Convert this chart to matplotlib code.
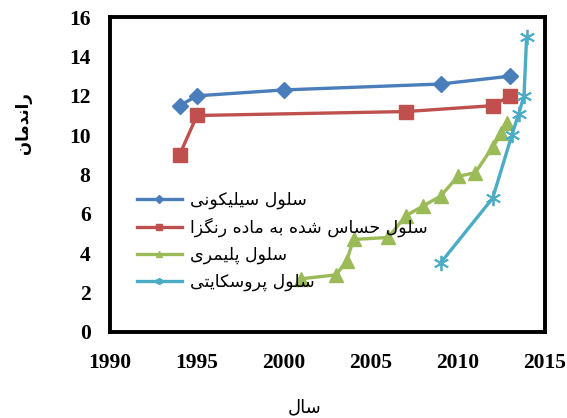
import matplotlib
matplotlib.use('Agg')
import matplotlib.pyplot as plt

# Persian letters -> (isolated, final, initial, medial); None means the letter
# does not join to the following letter
FORMS = {
    'ا': ('\uFE8D', '\uFE8E', None, None),
    'ب': ('\uFE8F', '\uFE90', '\uFE91', '\uFE92'),
    'پ': ('\uFB56', '\uFB57', '\uFB58', '\uFB59'),
    'ت': ('\uFE95', '\uFE96', '\uFE97', '\uFE98'),
    'ح': ('\uFEA1', '\uFEA2', '\uFEA3', '\uFEA4'),
    'د': ('\uFEA9', '\uFEAA', None, None),
    'ر': ('\uFEAD', '\uFEAE', None, None),
    'ز': ('\uFEAF', '\uFEB0', None, None),
    'س': ('\uFEB1', '\uFEB2', '\uFEB3', '\uFEB4'),
    'ش': ('\uFEB5', '\uFEB6', '\uFEB7', '\uFEB8'),
    'ل': ('\uFEDD', '\uFEDE', '\uFEDF', '\uFEE0'),
    'م': ('\uFEE1', '\uFEE2', '\uFEE3', '\uFEE4'),
    'ن': ('\uFEE5', '\uFEE6', '\uFEE7', '\uFEE8'),
    'ه': ('\uFEE9', '\uFEEA', '\uFEEB', '\uFEEC'),
    'و': ('\uFEED', '\uFEEE', None, None),
    'ی': ('\uFBFC', '\uFBFD', '\uFBFE', '\uFBFF'),
    'ک': ('\uFB8E', '\uFB8F', '\uFB90', '\uFB91'),
    'گ': ('\uFB92', '\uFB93', '\uFB94', '\uFB95'),
}


def fa(text):
    # shape the letters and put them in visual (left to right) order
    out = []
    for i, ch in enumerate(text):
        if ch not in FORMS:
            out.append(ch)
            continue
        prev = text[i - 1] if i > 0 else ''
        nxt = text[i + 1] if i + 1 < len(text) else ''
        join_prev = prev in FORMS and FORMS[prev][2] is not None
        join_next = nxt in FORMS and FORMS[ch][2] is not None
        iso, fin, ini, med = FORMS[ch]
        if join_prev and join_next:
            out.append(med)
        elif join_prev:
            out.append(fin)
        elif join_next:
            out.append(ini)
        else:
            out.append(iso)
    return ''.join(reversed(out))


# data
silicon_years = [1994, 1995, 2000, 2009, 2013]
silicon_eff = [11.5, 12.0, 12.3, 12.6, 13.0]

dye_years = [1994, 1995, 2007, 2012, 2013]
dye_eff = [9.0, 11.0, 11.2, 11.5, 12.0]

polymer_years = [2001, 2003, 2003.6, 2004, 2006, 2007, 2008, 2009, 2010, 2011, 2012, 2012.5, 2012.8]
polymer_eff = [2.7, 2.9, 3.6, 4.7, 4.8, 5.9, 6.4, 6.9, 7.9, 8.1, 9.4, 10.1, 10.6]

perov_years = [2009, 2012, 2013.1, 2013.5, 2013.8, 2013.95]
perov_eff = [3.5, 6.8, 10.0, 11.1, 12.0, 15.0]

labels = ['سلول سیلیکونی', 'سلول حساس شده به ماده رنگزا', 'سلول پلیمری', 'سلول پروسکایتی']
xticks = [1990, 1995, 2000, 2005, 2010, 2015]
yticks = [0, 2, 4, 6, 8, 10, 12, 14, 16]

fig = plt.figure(figsize=(5.67, 4.18), dpi=100)
ax = fig.add_axes([0.194, 0.206, 0.767, 0.753])

lw = 2.4
ax.plot(silicon_years, silicon_eff, color='#4a7ebb', lw=lw, marker='D', ms=8.5, label=fa(labels[0]))
ax.plot(dye_years, dye_eff, color='#c0504d', lw=lw, marker='s', ms=10, label=fa(labels[1]))
ax.plot(polymer_years, polymer_eff, color='#9bbb59', lw=lw, marker='^', ms=10, label=fa(labels[2]))
ax.plot(perov_years, perov_eff, color='#4bacc6', lw=lw, marker=(6, 2, 0), ms=11, mew=1.3,
        label=fa(labels[3]))

ax.set_xlim(1990, 2015)
ax.set_ylim(0, 16)
ax.set_xticks(xticks)
ax.set_yticks(yticks)
ax.tick_params(axis='x', length=0, pad=15)
ax.tick_params(axis='y', length=0, pad=14)
for t in ax.get_xticklabels() + ax.get_yticklabels():
    t.set_fontfamily('Liberation Serif')
    t.set_fontweight('bold')
    t.set_fontsize(15.5)
for s in ax.spines.values():
    s.set_linewidth(2.8)

leg = ax.legend(loc='upper left', bbox_to_anchor=(0.045, 0.47), frameon=False,
                prop={'family': 'DejaVu Sans', 'size': 12.5}, handlelength=2.6,
                handletextpad=0.5, labelspacing=0.5, markerscale=0.45, borderaxespad=0)

fig.text(0.04, 0.705, fa('راندمان'), rotation=90, ha='center', va='center',
         fontsize=12, fontweight='bold', family='DejaVu Sans')
fig.text(0.538, 0.025, fa('سال'), ha='center', va='center', fontsize=13, family='DejaVu Sans')

fig.savefig('out.png', dpi=100)
